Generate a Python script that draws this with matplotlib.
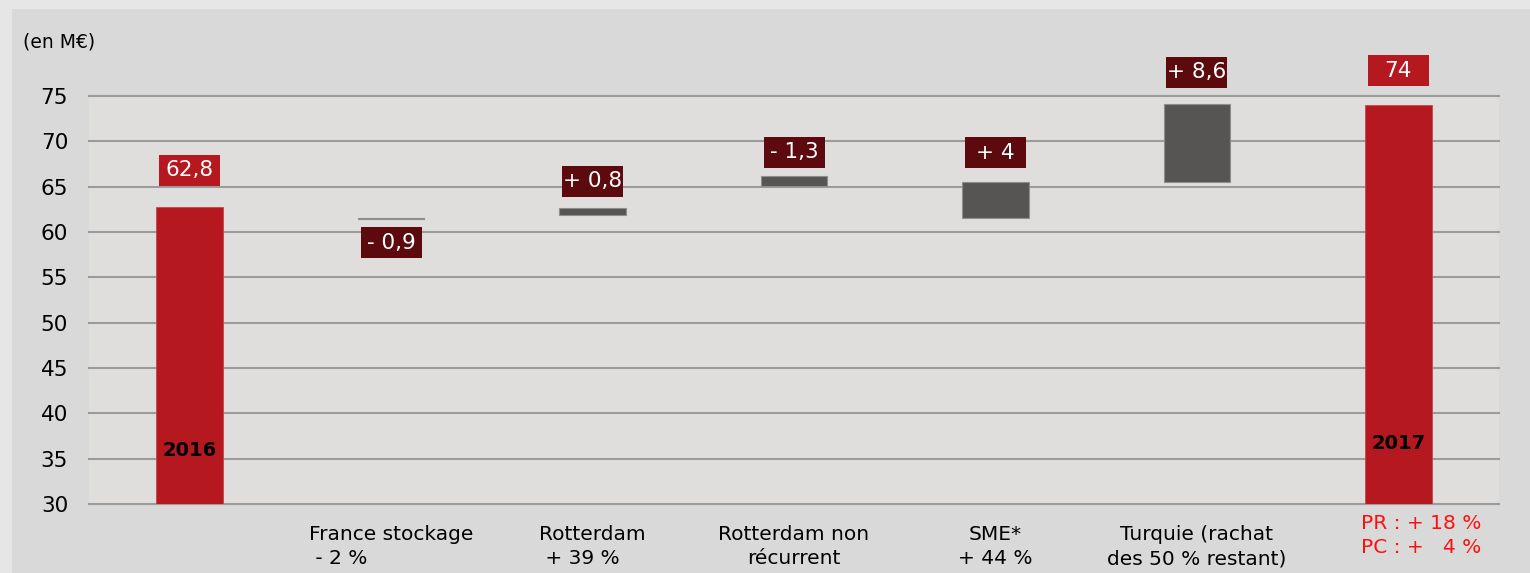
import matplotlib
matplotlib.use("Agg")
import matplotlib.pyplot as plt
from matplotlib.patches import Rectangle
from matplotlib.transforms import ScaledTranslation, blended_transform_factory, offset_copy

# ---------------- data ----------------
categories = ["",
              "France stockage\n - 2 %",
              "Rotterdam\n + 39 %",
              "Rotterdam non\nrécurrent",
              "SME*\n+ 44 %",
              "Turquie (rachat\ndes 50 % restant)",
              "PR : + 18 %\nPC : +   4 %"]
bar_low = [0, 61.4, 61.9, 65.1, 61.5, 65.5, 0]
bar_high = [62.8, 61.5, 62.7, 66.2, 65.5, 74.1, 74.0]
value_labels = ["62,8", "- 0,9", "+ 0,8", "- 1,3", "+ 4", "+ 8,6", "74"]
year_labels = ["2016", "", "", "", "", "", "2017"]
y_ticks = [30, 35, 40, 45, 50, 55, 60, 65, 70, 75]
unit_label = "(en M€)"

# ---------------- style / layout ----------------
RED = "#b5181e"
GREY = "#575553"
DARK = "#5c0a0e"
is_total = [True, False, False, False, False, False, True]
label_dy = [4.0, -2.6, 2.9, 2.6, 3.25, 3.5, 3.8]
cat_align = ["center", "left", "left", "center", "center", "center", "left"]
cat_color = ["black"] * 6 + ["#ff1010"]
cat_dx_px = [0, 0, 0, 0, 0, 0, 23]
cat_dy_px = [0, 0, 0, 0, 0, 0, 11]
year_y = [35.9, 0, 0, 0, 0, 0, 36.7]

plt.rcParams["font.family"] = ["DejaVu Sans"]

W, H = 1530, 573
fig = plt.figure(figsize=(W / 100, H / 100), dpi=100)
fig.patch.set_facecolor("#e6e6e6")
panel = Rectangle((12 / W, 0), 1, 1 - 9 / H, transform=fig.transFigure,
                  facecolor="#d9d9d9", edgecolor="none", zorder=-10)
fig.add_artist(panel)

ax = fig.add_axes([89 / W, 1 - 504 / H, (1499 - 89) / W, (504 - 96) / H])
ax.set_zorder(1)
ax.set_facecolor("#dfdedc")
for s in ax.spines.values():
    s.set_visible(False)

x = list(range(len(categories)))
ax.set_xlim(-0.5, len(categories) - 0.5)
ax.set_ylim(30, 75)
ax.set_yticks(y_ticks)
ax.set_yticklabels([str(t) for t in y_ticks], fontsize=15.5)
ax.tick_params(axis="y", length=0, pad=15)
ax.set_xticks([])
ax.grid(axis="y", color="#9b9b9b", linewidth=1.5)
ax.set_axisbelow(True)
for gl in ax.get_ygridlines():
    gl.set_clip_on(False)

for i in x:
    lo, hi = bar_low[i], bar_high[i]
    if is_total[i]:
        ax.bar(i, hi - lo, bottom=lo, width=0.33, color=RED,
               edgecolor="#c4474c", linewidth=0.6, zorder=2)
    else:
        ax.bar(i, hi - lo, bottom=lo, width=0.33, color=GREY,
               edgecolor="#8e8e8e", linewidth=0.8, zorder=2)

    # value label box
    ref = hi if label_dy[i] > 0 else lo
    ly = ref + label_dy[i]
    trans = fig.dpi_scale_trans + ScaledTranslation(i, ly, ax.transData)
    ax.add_patch(Rectangle((-0.305, -0.155), 0.61, 0.31, transform=trans,
                           facecolor=RED if is_total[i] else DARK,
                           edgecolor="none", clip_on=False, zorder=4))
    ax.text(i, ly, value_labels[i], ha="center", va="center", color="white",
            fontsize=15.5, zorder=5, clip_on=False)

    if year_labels[i]:
        ax.text(i, year_y[i], year_labels[i], ha="center", va="center",
                fontsize=14, fontweight="bold", color="black", zorder=5)

    if categories[i]:
        bt = blended_transform_factory(ax.transData, ax.transAxes)
        bt = offset_copy(bt, fig=fig, x=cat_dx_px[i], y=cat_dy_px[i], units="dots")
        ax.text(i, -0.052, categories[i], transform=bt, ha="center", va="top",
                multialignment=cat_align[i], fontsize=14.5, color=cat_color[i],
                linespacing=1.33, clip_on=False)

fig.text(23 / W, 1 - 42 / H, unit_label, ha="left", va="center", fontsize=13.5)

fig.savefig("out.png", dpi=100, facecolor=fig.get_facecolor())
